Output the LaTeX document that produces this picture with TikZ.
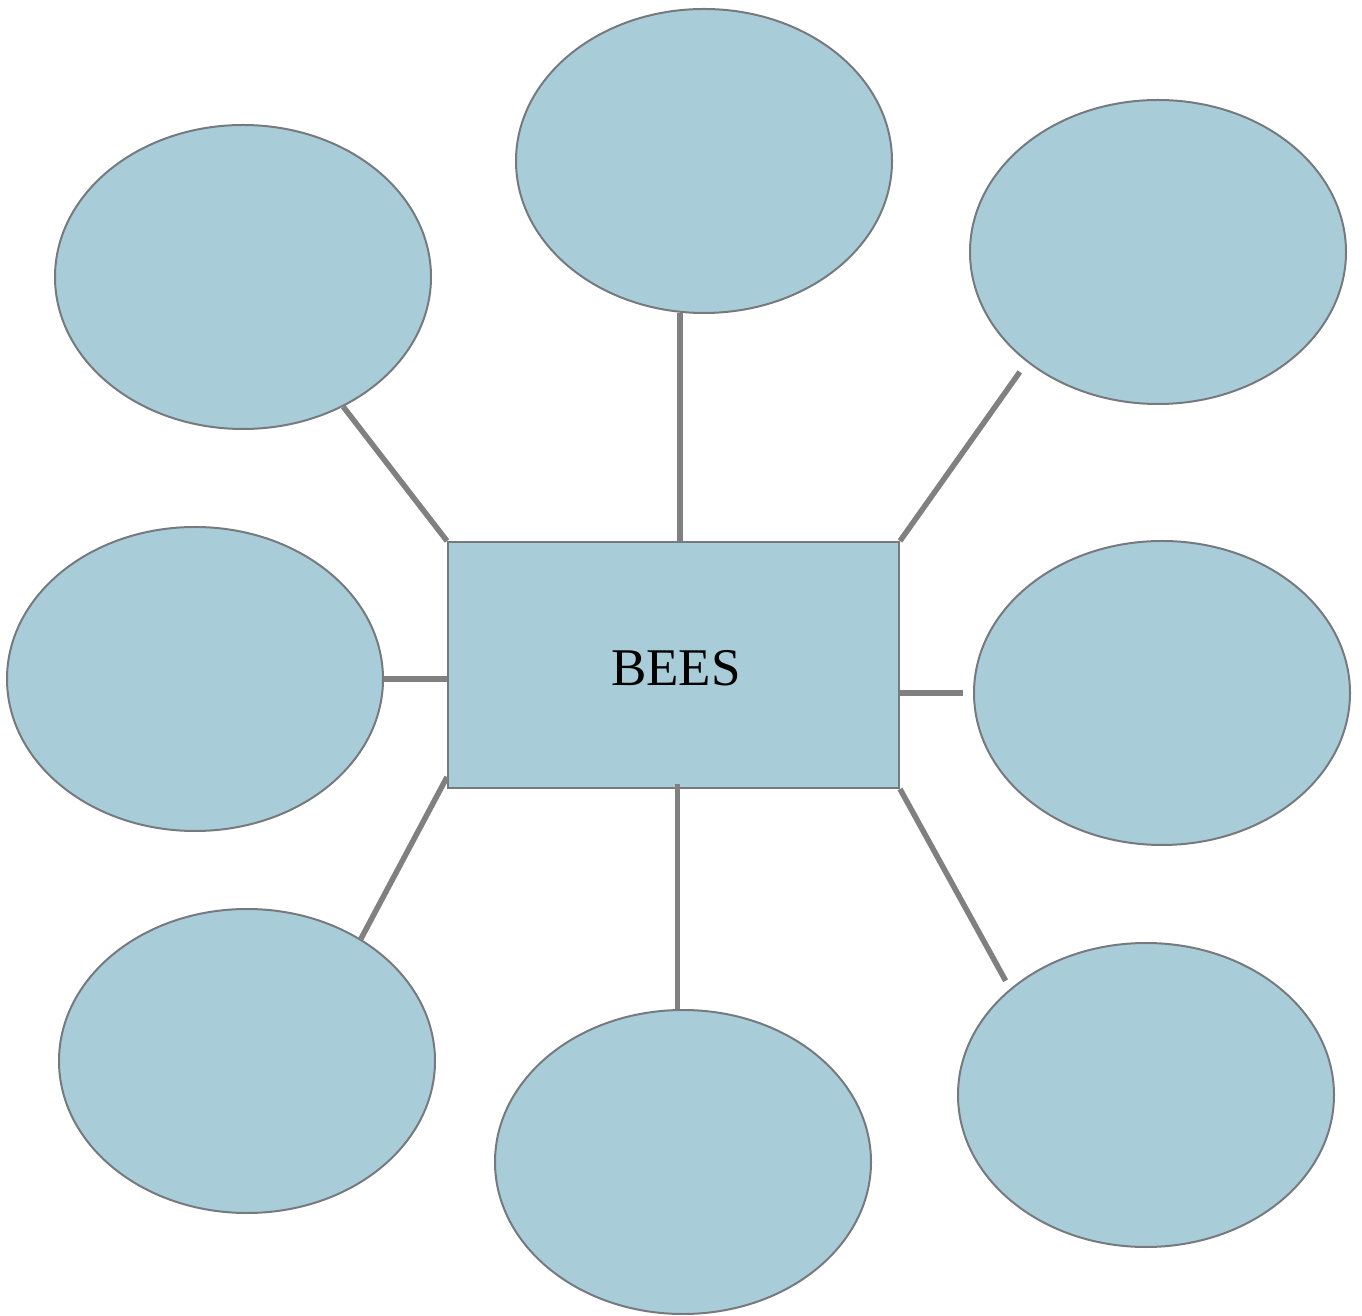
\documentclass[tikz,border=0pt]{standalone}
\usepackage{fontspec}
\setmainfont{Liberation Serif}
\usetikzlibrary{shapes.geometric,calc}
\definecolor{bubble}{RGB}{169,205,216}
\definecolor{rim}{RGB}{118,122,126}
\definecolor{wire}{RGB}{128,128,128}
\begin{document}
\begin{tikzpicture}[x=1pt,y=1pt,
  bub/.style={ellipse,draw=rim,fill=bubble,line width=2pt,minimum width=376pt,minimum height=304pt,inner sep=0pt},
  hub/.style={rectangle,draw=rim,fill=bubble,line width=2pt,minimum width=451pt,minimum height=246pt,inner sep=0pt},
  lbl/.style={font=\fontsize{53}{60}\selectfont,inner sep=0pt},
  link/.style={draw=wire,line width=5.5pt}]
\useasboundingbox (0,0) rectangle (1362,1315);
\node[bub] (top) at (704,1154) {};
\node[bub] (tl) at (243,1038) {};
\node[bub] (tr) at (1158,1063) {};
\node[bub] (left) at (195,636) {};
\node[bub] (right) at (1162,622) {};
\node[bub] (bl) at (247,254) {};
\node[bub] (bot) at (683,153) {};
\node[bub] (br) at (1146,220) {};
\node[hub] (box) at (673.5,650) {};
\node[lbl] (txt) at (676,647) {BEES};
\draw[link] (tl) -- (box.north west);
\draw[link] (top.-99) -- (top.-99 |- box.north);
\draw[link] (box.north east) -- ($(box.north east)!0.945!(tr.-140)$);
\draw[link] (left.east) -- (left.east -| box.west);
\draw[link] (box.east |- right.west) -- ($(right.west)+(-10,0)$);
\draw[link] ($(box.south west)+(0,12)$) -- (bl.47);
\draw[link] ($(bot.92 |- box.south)+(0,5)$) -- (bot.92);
\draw[link] (box.south east) -- ($(box.south east)!0.96!(br.142)$);
\end{tikzpicture}
\end{document}
